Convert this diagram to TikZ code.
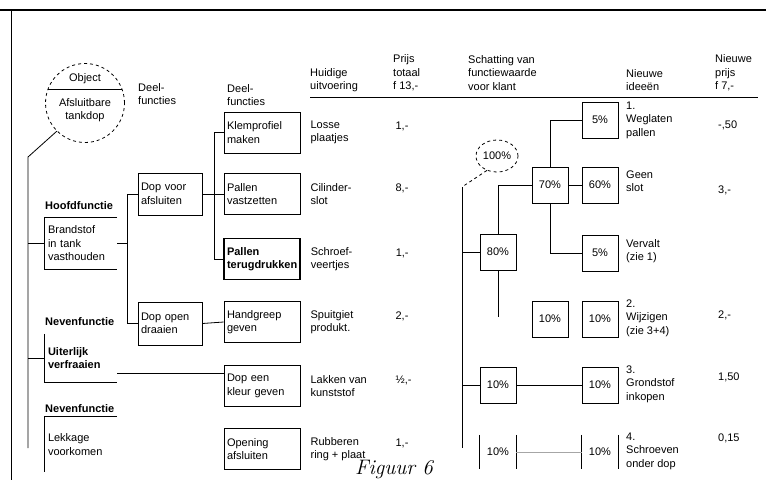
\documentclass[tikz,border=0pt]{standalone}
\usepackage{fontspec}
\newfontfamily\dfont{Liberation Sans}
\usetikzlibrary{positioning,shapes.geometric}
\tikzset{
  txt/.style={align=left,anchor=west},
  fbox/.style={draw,thick,minimum width=76pt,minimum height=41pt,text width=70pt,inner xsep=3pt,align=left},
  dbox/.style={draw,thick,minimum width=64pt,minimum height=42pt,text width=58pt,inner xsep=3pt,align=left},
  obox/.style={minimum height=48pt,text width=66pt,inner xsep=3pt,align=left},
  pbox/.style={draw,thick,minimum width=36pt,minimum height=36pt},
  pside/.style={minimum width=36pt,minimum height=34pt},
  link/.style={thick}
}
\begin{document}
\begin{tikzpicture}[x=1pt,y=-1pt,every node/.style={font=\dfont\fontsize{11}{13.5}\selectfont,inner sep=0pt}]
\useasboundingbox (0,0) rectangle (766,480);
\fill[white] (0,0) rectangle (766,480);
% frame and header rule
\draw[very thick] (0,10) -- (766,10);
\draw[thick] (11,10) -- (11,480);
\draw[thick] (310,97) -- (758,97);

% object
\node[draw,circle,dashed,thick,minimum size=79pt] (obj) at (85,103) {};
\draw[thick] (obj.160) -- (obj.20);
\node (objlbl) at (85,79) {Object};
\node[align=center] (objname) at (85,110) {Afsluitbare\\tankdop};

% headers
\node[txt] (h2) at (138,94) {Deel-\\functies};
\node[txt] (h3) at (227,95) {Deel-\\functies};
\node[txt] (h4) at (310,80) {Huidige\\uitvoering};
\node[txt] (h5) at (393,73) {Prijs\\totaal\\f 13,-};
\node[txt] (h6) at (468,73) {Schatting van\\functiewaarde\\voor klant};
\node[txt] (h7) at (626,80) {Nieuwe\\idee\"en};
\node[txt] (h8) at (715,73) {Nieuwe\\prijs\\f 7,-};

% functions
\node[txt,font=\dfont\bfseries\fontsize{11}{13.5}\selectfont] (hflbl) at (45,206) {Hoofdfunctie};
\node[obox,minimum height=51pt] (hf) at (81,243.5) {Brandstof\\in tank\\vasthouden};
\node[txt,font=\dfont\bfseries\fontsize{11}{13.5}\selectfont] (nf1lbl) at (45,322) {Nevenfunctie};
\node[obox,font=\dfont\bfseries\fontsize{11}{13.5}\selectfont] (uv) at (81,358) {Uiterlijk\\verfraaien};
\node[txt,font=\dfont\bfseries\fontsize{11}{13.5}\selectfont] (nf2lbl) at (45,409) {Nevenfunctie};
\node[obox,minimum height=55pt] (lv) at (81,444.5) {Lekkage\\voorkomen};
\draw[thick] (hf.north east) -| (hf.south west) -- (hf.south east);
\draw[thick] (uv.north west) -- (uv.south west) -- (uv.south east);
\draw[thick] (lv.north east) -- (lv.north west) -- (lv.south west);

\coordinate (t1) at (28,157);
\coordinate (t2) at (28,448);
\draw[link] (obj.225) -- (t1) -- (t2);
\draw[link] (hf.west -| t1) -- (hf.west);
\draw[link] (uv.west -| t1) -- (uv.west);

% deelfuncties
\node[dbox] (dva) at (170,194) {Dop voor\\afsluiten};
\node[dbox,minimum height=43pt] (dod) at (170,323.5) {Dop open\\draaien};
\draw[link] (hf.east) -- ++(11,0);
\draw[link] (dva.west) -- ++(-10,0) |- (dod.west);

\node[fbox] (klem) at (262,132.5) {Klemprofiel\\maken};
\node[fbox] (palvast) at (262,194) {Pallen\\vastzetten};
\node[fbox,very thick,font=\dfont\bfseries\fontsize{11}{13.5}\selectfont] (palterug) at (262,259) {Pallen\\terugdrukken};
\node[fbox] (greep) at (262,322) {Handgreep\\geven};
\node[fbox] (kleur) at (262,386) {Dop een\\kleur geven};
\node[fbox] (opening) at (262,449) {Opening\\afsluiten};
\draw[link] (dva.east) -- (palvast.west);
\draw[link] (klem.west) -- ++(-9,0) |- (palterug.west);
\draw[link] (dod.east) -- (greep.west);
\draw[link] ([yshift=13pt]kleur.west) -- ([yshift=13pt]kleur.west -| uv.east);

% huidige uitvoering en prijs
\node[txt,right=10pt of klem] (u1) {Losse\\plaatjes};
\node[txt,right=10pt of palvast] (u2) {Cilinder-\\slot};
\node[txt,right=10pt of palterug] (u3) {Schroef-\\veertjes};
\node[txt,right=10pt of greep] (u4) {Spuitgiet\\produkt.};
\node[txt,right=10pt of kleur] (u5) {Lakken van\\kunststof};
\node[txt,right=10pt of opening] (u6) {Rubberen\\ring + plaat};
\node[txt,right=95pt of klem,yshift=6pt] (k1) {1,-};
\node[txt,right=95pt of palvast,yshift=6pt] (k2) {8,-};
\node[txt,right=95pt of palterug,yshift=6pt] (k3) {1,-};
\node[txt,right=95pt of greep,yshift=6pt] (k4) {2,-};
\node[txt,right=95pt of kleur,yshift=6pt] (k5) {½,-};
\node[txt,right=95pt of opening,yshift=6pt] (k6) {1,-};

% schatting functiewaarde
\node[draw,ellipse,dashed,thick,minimum width=42pt,minimum height=32pt] (p100) at (497,156) {100\%};
\coordinate (s1) at (462,187);
\coordinate (s2) at (462,448);
\draw[thick,dashed] (p100.235) -- (s1);
\draw[semithick] (s1) -- (s2);
\node[pbox] (p80) at (498,252) {80\%};
\node[pbox] (p70) at (550,185) {70\%};
\node[pbox] (p5a) at (600,120) {5\%};
\node[pbox] (p60) at (600,185) {60\%};
\node[pbox] (p5b) at (600,253) {5\%};
\node[pbox] (p10a) at (550,319) {10\%};
\node[pbox] (p10b) at (600,319) {10\%};
\node[pbox] (p10c) at (498,385) {10\%};
\node[pbox] (p10d) at (600,385) {10\%};
\node[pside] (p10e) at (498,452) {10\%};
\node[pside] (p10f) at (600,452) {10\%};
\draw[thick] (p10e.north west) -- (p10e.south west) (p10e.north east) -- (p10e.south east);
\draw[thick] (p10f.north west) -- (p10f.south west) (p10f.north east) -- (p10f.south east);
\coordinate (e80) at (498,317);
\draw[semithick] (p80.west -| s1) -- (p80.west);
\draw[semithick] (p80.north) |- (p70.west);
\draw[semithick] (p80.south) -- (e80);
\draw[thick] (p70.north) |- (p5a.west);
\draw[thick] (p70) -- (p60);
\draw[thick] (p70.south) |- (p5b.west);
\draw[semithick] (p10c.west -| s1) -- (p10c.west);
\draw[semithick] (p10c) -- (p10d);
\draw[black!35] (p10e) -- (p10f);

% nieuwe ideeen en prijs
\node[txt] (i1) at (626,120) {1.\\Weglaten\\pallen};
\node[txt] (i2) at (626,181) {Geen\\slot};
\node[txt] (i3) at (626,251) {Vervalt\\(zie 1)};
\node[txt] (i4) at (626,318) {2.\\Wijzigen\\(zie 3+4)};
\node[txt] (i5) at (626,384) {3.\\Grondstof\\inkopen};
\node[txt] (i6) at (626,451) {4.\\Schroeven\\onder dop};
\node[txt] (n1) at (718,125) {-,50};
\node[txt] (n2) at (718,190) {3,-};
\node[txt] (n3) at (718,315) {2,-};
\node[txt] (n4) at (718,377) {1,50};
\node[txt] (n5) at (718,438) {0,15};

\node[anchor=base west,font=\rmfamily\itshape\fontsize{21}{23}\selectfont] (cap) at (355,474) {Figuur 6};
\end{tikzpicture}
\end{document}
